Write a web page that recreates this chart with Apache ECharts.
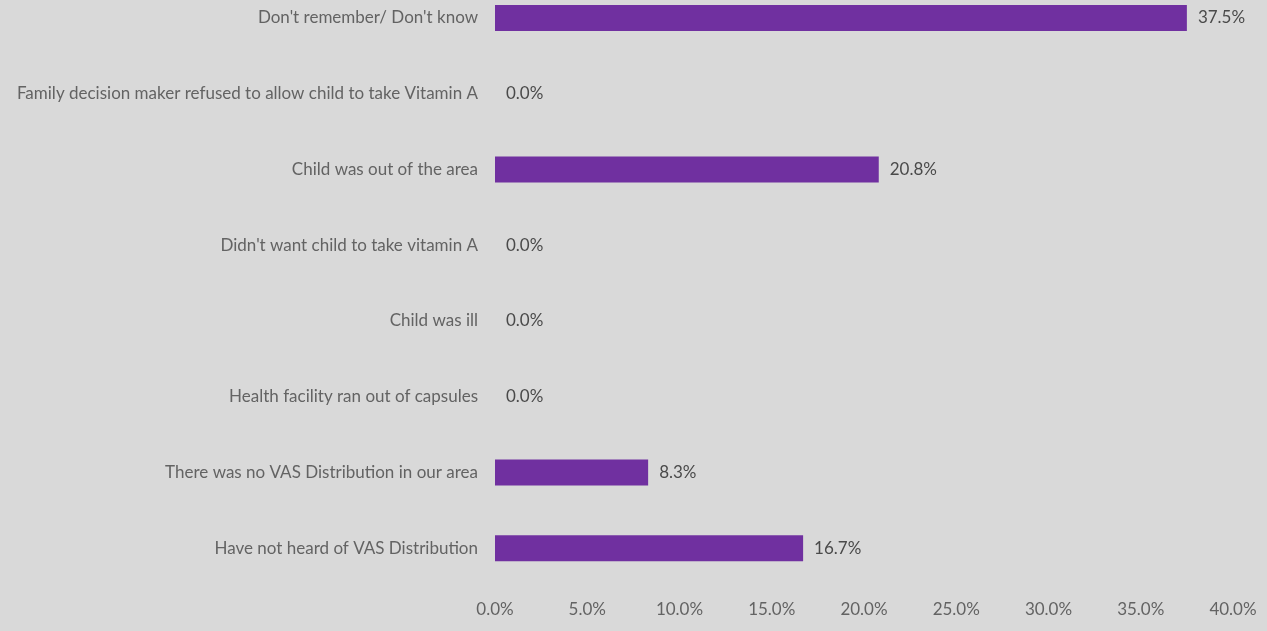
<!DOCTYPE html>
<html>
<head>
<meta charset="utf-8">
<script src="https://cdn.jsdelivr.net/npm/echarts@6/dist/echarts.min.js"></script>
<style>
  html, body { margin: 0; padding: 0; background: #d9d9d9; overflow: hidden; }
  /* The canvas is a little taller than the page and shifted up so the first row sits near the top edge */
  #chart { position: absolute; left: 0; top: -20px; width: 1267px; height: 651px; }
</style>
</head>
<body>
<div id="chart"></div>
<script>
// Reasons listed bottom-to-top (category axis starts at the bottom)
const reasons = [
  "Have not heard of VAS Distribution",
  "There was no VAS Distribution in our area",
  "Health facility ran out of capsules",
  "Child was ill",
  "Didn't want child to take vitamin A",
  "Child was out of the area",
  "Family decision maker refused to allow child to take Vitamin A",
  "Don't remember/ Don't know"
];
const shares = [16.7, 8.3, 0.0, 0.0, 0.0, 20.8, 0.0, 37.5];
const axisTicks = [0, 5, 10, 15, 20, 25, 30, 35, 40];

const chart = echarts.init(document.getElementById('chart'));
const font = 'Lato, "Open Sans", sans-serif';
chart.setOption({
  backgroundColor: '#d9d9d9',
  animation: false,
  grid: { left: 495, right: 34, top: 0, bottom: 45, containLabel: false },
  xAxis: {
    type: 'value',
    min: axisTicks[0],
    max: axisTicks[axisTicks.length - 1],
    interval: axisTicks[1] - axisTicks[0],
    axisLine: { show: false },
    axisTick: { show: false },
    splitLine: { show: false },
    axisLabel: {
      color: '#636363', fontSize: 17, fontFamily: font, margin: 15,
      formatter: v => v.toFixed(1) + '%'
    }
  },
  yAxis: {
    type: 'category',
    data: reasons,
    axisLine: { show: false },
    axisTick: { show: false },
    axisLabel: { color: '#636363', fontSize: 17, fontFamily: font, margin: 17 }
  },
  series: [{
    type: 'bar',
    data: shares,
    barWidth: 26,
    itemStyle: { color: '#7030a0' },
    label: {
      show: true, position: 'right', distance: 11,
      color: '#4a4a4a', fontSize: 17, fontFamily: font,
      formatter: p => p.value.toFixed(1) + '%'
    }
  }]
});
</script>
</body>
</html>
